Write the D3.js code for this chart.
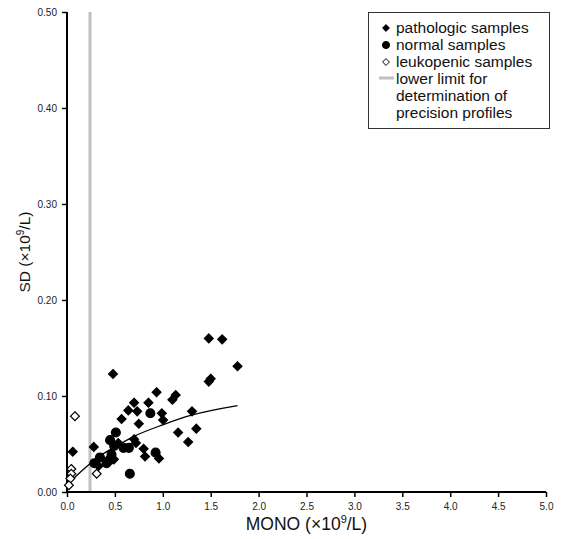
<!DOCTYPE html>
<html>
<head>
<meta charset="utf-8">
<script src="https://cdn.jsdelivr.net/npm/d3@7"></script>
<style>
  html, body { margin: 0; padding: 0; background: #fff; }
  svg { display: block; font-family: "Liberation Sans", Arial, sans-serif; }
</style>
</head>
<body>
<svg id="chart" width="565" height="539"></svg>
<script>
// values: [MONO, SD]
var pathologicSamples = [
    [0.06, 0.042], [0.28, 0.047], [0.33, 0.027], [0.48, 0.123], [0.49, 0.034],
    [0.535, 0.051], [0.57, 0.076], [0.64, 0.085], [0.70, 0.093], [0.70, 0.055],
    [0.72, 0.051], [0.733, 0.084], [0.75, 0.071], [0.80, 0.045], [0.815, 0.037],
    [0.85, 0.093], [0.935, 0.104], [0.96, 0.035], [0.99, 0.082], [1.003, 0.075],
    [1.10, 0.096], [1.135, 0.101], [1.16, 0.062], [1.265, 0.052], [1.305, 0.084],
    [1.35, 0.066], [1.48, 0.115], [1.50, 0.118], [1.48, 0.160], [1.62, 0.159],
    [1.78, 0.131]
];
var normalSamples = [
    [0.285, 0.030], [0.344, 0.036], [0.413, 0.030], [0.44, 0.033], [0.465, 0.039],
    [0.45, 0.054], [0.51, 0.062], [0.493, 0.048], [0.59, 0.046], [0.646, 0.046],
    [0.656, 0.019], [0.87, 0.082], [0.925, 0.041]
];
var leukopenicSamples = [
    [0.083, 0.079], [0.045, 0.024], [0.045, 0.019], [0.035, 0.014], [0.02, 0.007],
    [0.31, 0.019]
];
// fitted trend line
var trendLine = [
    [0.0, 0.006], [0.07, 0.014], [0.2, 0.026], [0.35, 0.038], [0.5, 0.047],
    [0.7, 0.058], [1.0, 0.070], [1.3, 0.080], [1.78, 0.090]
];
var lowerLimit = 0.24;

var xTicks = [0, 0.5, 1.0, 1.5, 2.0, 2.5, 3.0, 3.5, 4.0, 4.5, 5.0];
var yTicks = [0, 0.1, 0.2, 0.3, 0.4, 0.5];
var legendLabels = [
    'pathologic samples',
    'normal samples',
    'leukopenic samples',
    ['lower limit for', 'determination of', 'precision profiles']
];

var svg = d3.select('#chart');

var plotLeft = 67, plotRight = 546, plotTop = 12, plotBottom = 492;

var scaleX = d3.scaleLinear().domain([0, 5]).range([plotLeft, plotRight]);
var scaleY = d3.scaleLinear().domain([0, 0.5]).range([plotBottom, plotTop]);

var diamond = d3.symbol().type(d3.symbolDiamond2).size(50);
var circle = d3.symbol().type(d3.symbolCircle).size(62);

// lower limit line
svg.append('line')
    .attr('x1', scaleX(lowerLimit)).attr('x2', scaleX(lowerLimit))
    .attr('y1', scaleY(0.5)).attr('y2', scaleY(0))
    .attr('stroke', '#c0c0c0')
    .attr('stroke-width', 3);

// axes
var xAxis = d3.axisBottom(scaleX).tickValues(xTicks).tickSize(5).tickPadding(6)
    .tickFormat(d3.format('.1f'));
var yAxis = d3.axisLeft(scaleY).tickValues(yTicks).tickSize(5).tickPadding(5)
    .tickFormat(d3.format('.2f'));

svg.append('g')
    .attr('transform', 'translate(0,' + plotBottom + ')')
    .call(xAxis)
    .call(function (g) {
        g.select('.domain').attr('stroke', '#000').attr('stroke-width', 2)
            .attr('d', 'M' + plotLeft + ',0H' + plotRight);
        g.selectAll('.tick line').attr('stroke', '#000').attr('stroke-width', 1.5);
        g.selectAll('.tick text').attr('fill', '#222').attr('font-size', 10)
            .attr('font-family', '"Liberation Sans", Arial, sans-serif');
    });

svg.append('g')
    .attr('transform', 'translate(' + plotLeft + ',0)')
    .call(yAxis)
    .call(function (g) {
        g.select('.domain').attr('stroke', '#000').attr('stroke-width', 2)
            .attr('d', 'M0,' + plotTop + 'V' + plotBottom);
        g.selectAll('.tick line').attr('stroke', '#000').attr('stroke-width', 1.5);
        g.selectAll('.tick text').attr('fill', '#222').attr('font-size', 10)
            .attr('font-family', '"Liberation Sans", Arial, sans-serif');
    });

// axis titles
var xTitle = svg.append('text')
    .attr('x', (plotLeft + plotRight) / 2).attr('y', 530)
    .attr('text-anchor', 'middle')
    .attr('font-size', 17.5)
    .attr('fill', '#111');
xTitle.append('tspan').text('MONO (\u00d710');
xTitle.append('tspan').attr('font-size', 11).attr('dy', -7).text('9');
xTitle.append('tspan').attr('dy', 7).text('/L)');

var yTitle = svg.append('text')
    .attr('transform', 'translate(30,' + ((plotTop + plotBottom) / 2) + ') rotate(-90)')
    .attr('text-anchor', 'middle')
    .attr('font-size', 15.5)
    .attr('fill', '#111');
yTitle.append('tspan').text('SD (\u00d710');
yTitle.append('tspan').attr('font-size', 10).attr('dy', -6).text('9');
yTitle.append('tspan').attr('dy', 6).text('/L)');

// trend line
var line = d3.line()
    .x(function (d) { return scaleX(d[0]); })
    .y(function (d) { return scaleY(d[1]); })
    .curve(d3.curveMonotoneX);

svg.append('path')
    .datum(trendLine)
    .attr('d', line)
    .attr('fill', 'none')
    .attr('stroke', '#000')
    .attr('stroke-width', 1.3);

function drawPoints(data, shape, fill, cls) {
    svg.append('g').attr('class', cls)
        .selectAll('path')
        .data(data)
        .enter().append('path')
        .attr('d', shape)
        .attr('transform', function (d) {
            return 'translate(' + scaleX(d[0]) + ',' + scaleY(d[1]) + ')';
        })
        .attr('fill', fill)
        .attr('stroke', '#000')
        .attr('stroke-width', 1.2);
}

drawPoints(normalSamples, circle, '#000', 'normal');
drawPoints(pathologicSamples, diamond, '#000', 'pathologic');
drawPoints(leukopenicSamples, diamond, '#fff', 'leukopenic');

// legend
var legend = svg.append('g').attr('class', 'legend');
legend.append('rect')
    .attr('x', 368.5).attr('y', 12.5)
    .attr('width', 181).attr('height', 116)
    .attr('fill', '#fff')
    .attr('stroke', '#333')
    .attr('stroke-width', 1);

var legendSymbols = [
    { shape: d3.symbol().type(d3.symbolDiamond2).size(30), fill: '#000' },
    { shape: d3.symbol().type(d3.symbolCircle).size(40), fill: '#000' },
    { shape: d3.symbol().type(d3.symbolDiamond2).size(30), fill: '#fff' }
];
var rowY = [33, 50, 67, 84];
var textX = 396;

legendSymbols.forEach(function (s, i) {
    legend.append('path')
        .attr('d', s.shape)
        .attr('transform', 'translate(386,' + (rowY[i] - 5) + ')')
        .attr('fill', s.fill)
        .attr('stroke', '#000')
        .attr('stroke-width', 1);
    legend.append('text')
        .attr('x', textX).attr('y', rowY[i])
        .attr('font-size', 15.5)
        .attr('fill', '#111')
        .text(legendLabels[i]);
});

legend.append('line')
    .attr('x1', 379).attr('x2', 394)
    .attr('y1', rowY[3] - 6).attr('y2', rowY[3] - 6)
    .attr('stroke', '#c0c0c0')
    .attr('stroke-width', 3);

legendLabels[3].forEach(function (t, j) {
    legend.append('text')
        .attr('x', textX).attr('y', rowY[3] + j * 17)
        .attr('font-size', 15.5)
        .attr('fill', '#111')
        .text(t);
});
</script>
</body>
</html>
